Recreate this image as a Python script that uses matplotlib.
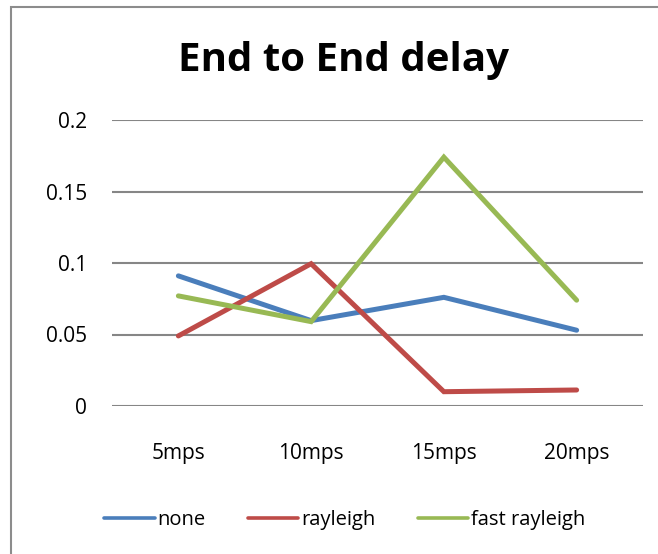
import matplotlib
matplotlib.use("Agg")
import matplotlib.pyplot as plt
from matplotlib.patches import Rectangle

plt.rcParams["font.family"] = ["Open Sans", "DejaVu Sans"]

categories = ["5mps", "10mps", "15mps", "20mps"]
none_vals = [0.091, 0.0597, 0.076, 0.053]
rayleigh_vals = [0.049, 0.0995, 0.010, 0.0112]
fast_rayleigh_vals = [0.077, 0.059, 0.174, 0.074]

series = [
    ("none", none_vals, "#4A7EBB"),
    ("rayleigh", rayleigh_vals, "#BE4B48"),
    ("fast rayleigh", fast_rayleigh_vals, "#98B954"),
]

fig = plt.figure(figsize=(6.58, 5.54), dpi=100)
# chart border (only top and left edges are visible in the crop)
fig.patches.append(Rectangle((11 / 658, -0.1), 1.2, 1 - 7 / 554 + 0.1,
                             transform=fig.transFigure, fill=False,
                             edgecolor="#8c8c8c", linewidth=1.5))

ax = fig.add_axes([112 / 658, 1 - 406 / 554, 531 / 658, 286 / 554])
x = list(range(len(categories)))
for name, vals, color in series:
    ax.plot(x, vals, color=color, linewidth=3.6, label=name,
            solid_capstyle="round", solid_joinstyle="miter")

ax.set_xlim(-0.5, 3.5)
ax.set_ylim(0, 0.2)
ax.set_yticks([0, 0.05, 0.1, 0.15, 0.2])
ax.set_yticklabels(["0", "0.05", "0.1", "0.15", "0.2"])
ax.set_xticks(x)
ax.set_xticklabels(categories)
ax.yaxis.grid(True, color="#868686", linewidth=1.5)
ax.set_axisbelow(True)
for s in ax.spines.values():
    s.set_visible(False)
ax.tick_params(axis="both", length=0, labelsize=15, colors="black")
ax.tick_params(axis="y", pad=18)
ax.tick_params(axis="x", pad=27)

fig.text(344 / 658, 1 - 60 / 554, "End to End delay", ha="center", va="center",
         fontsize=29, fontweight="bold")

leg = fig.legend(loc="center", bbox_to_anchor=(345 / 658, 1 - 520 / 554), ncol=3,
                 frameon=False, fontsize=14.5, handlelength=2.5, handletextpad=0.15,
                 columnspacing=2.1)
for line in leg.get_lines():
    line.set_linewidth(2.6)

fig.savefig("out.png", dpi=100)
